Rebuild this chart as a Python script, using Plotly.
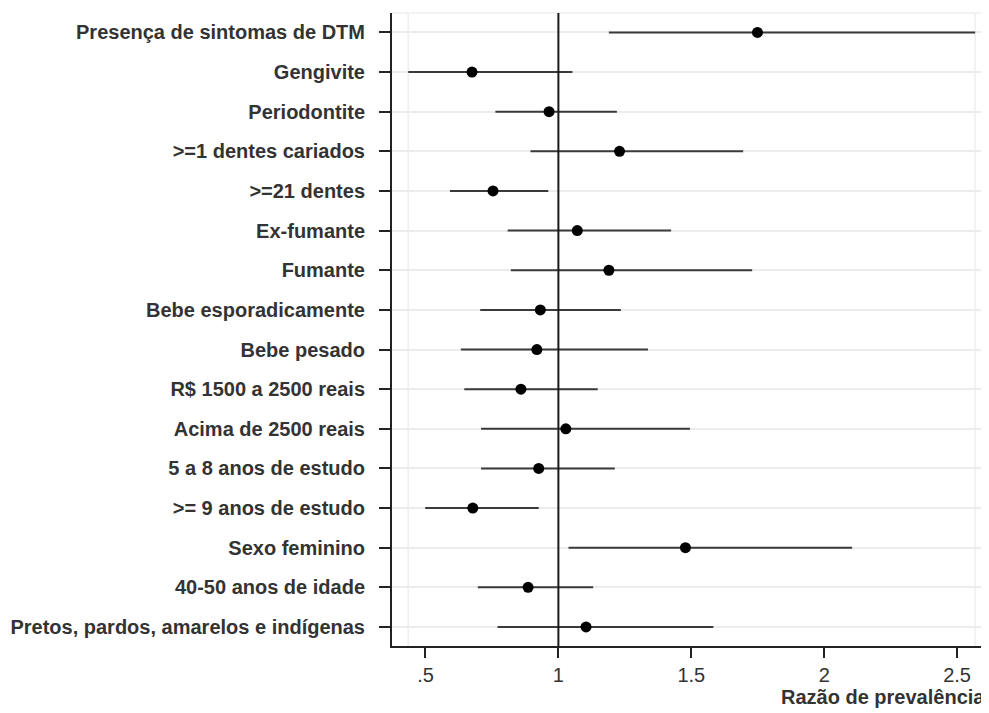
import plotly.graph_objects as go

categories = [
    "Presença de sintomas de DTM",
    "Gengivite",
    "Periodontite",
    ">=1 dentes cariados",
    ">=21 dentes",
    "Ex-fumante",
    "Fumante",
    "Bebe esporadicamente",
    "Bebe pesado",
    "R$ 1500 a 2500 reais",
    "Acima de 2500 reais",
    "5 a 8 anos de estudo",
    ">= 9 anos de estudo",
    "Sexo feminino",
    "40-50 anos de idade",
    "Pretos, pardos, amarelos e indígenas",
]
rp = [1.749, 0.675, 0.965, 1.230, 0.754, 1.071, 1.190, 0.932, 0.919, 0.859,
      1.028, 0.926, 0.678, 1.478, 0.886, 1.104]
lower = [1.190, 0.435, 0.763, 0.895, 0.592, 0.809, 0.821, 0.706, 0.633, 0.646,
         0.709, 0.709, 0.499, 1.038, 0.697, 0.771]
upper = [2.568, 1.053, 1.220, 1.695, 0.962, 1.424, 1.729, 1.235, 1.337, 1.148,
         1.495, 1.212, 0.926, 2.105, 1.131, 1.583]
x_ticks = [0.5, 1, 1.5, 2, 2.5]
x_ticklabels = [".5", "1", "1.5", "2", "2.5"]
x_title = "Razão de prevalência"

FONT = "Liberation Sans, Arial, sans-serif"

fig = go.Figure()

# faint frame lines at data extents
for xv in (min(lower), max(upper)):
    fig.add_shape(type="line", xref="x", yref="paper", x0=xv, x1=xv, y0=0, y1=1,
                  line=dict(color="#efefef", width=1.5), layer="below")
fig.add_shape(type="line", xref="paper", yref="paper", x0=0, x1=1, y0=1, y1=1,
              line=dict(color="#efefef", width=1.5), layer="below")

# reference line at 1
fig.add_shape(type="line", xref="x", yref="paper", x0=1, x1=1, y0=0, y1=1,
              line=dict(color="#1a1a1a", width=2))

fig.add_trace(go.Scatter(
    x=rp, y=categories, mode="markers",
    marker=dict(color="black", size=11),
    error_x=dict(type="data", symmetric=False,
                 array=[u - r for u, r in zip(upper, rp)],
                 arrayminus=[r - l for r, l in zip(rp, lower)],
                 color="#3a3a3a", thickness=2, width=0),
    showlegend=False, hoverinfo="x+y",
))

fig.update_xaxes(
    range=[0.374, 2.62], tickvals=x_ticks, ticktext=x_ticklabels,
    showgrid=False, zeroline=False,
    showline=True, linecolor="#222222", linewidth=2,
    ticks="outside", ticklen=10, tickwidth=1.5, tickcolor="#222222",
    tickfont=dict(family=FONT, size=20, color="#333333"),
)
fig.update_yaxes(
    type="category", categoryorder="array", categoryarray=categories,
    range=[15.48, -0.49],
    showgrid=True, gridcolor="#ececec", gridwidth=1.5,
    zeroline=False,
    showline=True, linecolor="#222222", linewidth=2,
    ticks="outside", ticklen=11, tickwidth=1.5, tickcolor="#222222",
    ticklabelstandoff=10,
    tickfont=dict(family=FONT, size=20, color="#333333", weight="bold"),
)

fig.add_annotation(
    text=x_title, xref="paper", yref="paper", x=1, y=0, xanchor="right",
    yanchor="middle", yshift=-51, xshift=-2, showarrow=False,
    font=dict(family=FONT, size=20, color="#333333", weight="bold"),
)

# page body has an 8px margin; compensate so plot lands where reference has it
fig.update_layout(
    width=981, height=705,
    margin=dict(l=384, r=0, t=5, b=67),
    paper_bgcolor="white", plot_bgcolor="white",
)

fig.write_html("out.html")
